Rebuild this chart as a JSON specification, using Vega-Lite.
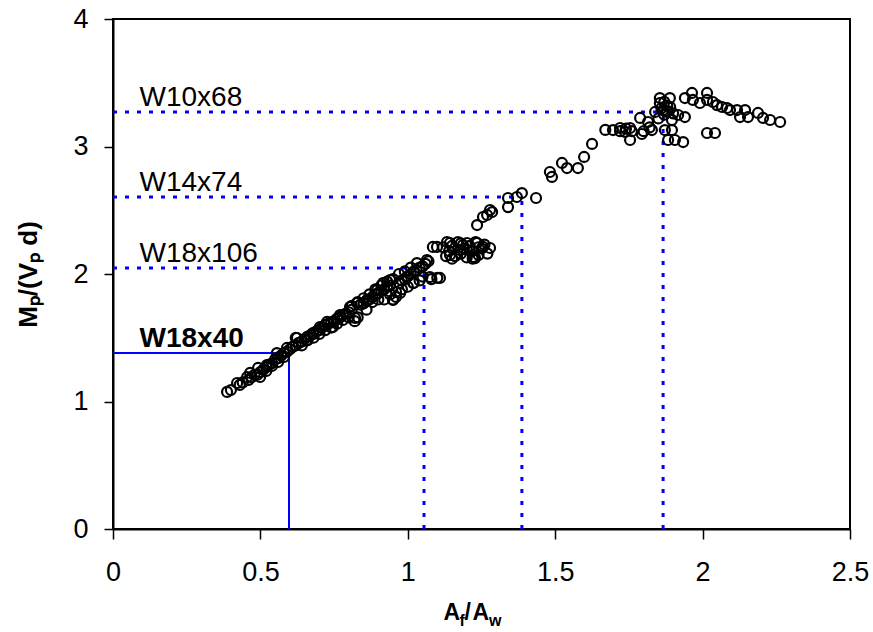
{
  "$schema": "https://vega.github.io/schema/vega-lite/v6.json",
  "autosize": {"type": "none"},
  "width": 737,
  "height": 510,
  "padding": {"left": 113, "top": 19, "right": 23, "bottom": 103},
  "background": "white",
  "config": {
    "view": {"stroke": "black", "strokeWidth": 2},
    "axis": {
      "domainColor": "black", "domainWidth": 2,
      "tickColor": "black", "tickWidth": 1.5, "tickSize": 9,
      "labelFont": "Liberation Sans", "labelFontSize": 27, "labelColor": "black",
      "titleFont": "Liberation Sans", "titleColor": "black",
      "grid": false
    }
  },
  "datasets": {
    "pts": [
      {"af":0.387,"m":1.075},{"af":0.421,"m":1.145},{"af":0.455,"m":1.192},{"af":0.465,"m":1.224},{"af":0.499,"m":1.192},
      {"af":0.492,"m":1.263},{"af":0.522,"m":1.286},{"af":0.556,"m":1.38},{"af":0.59,"m":1.42},{"af":0.624,"m":1.498},
      {"af":0.658,"m":1.482},{"af":0.678,"m":1.537},{"af":0.702,"m":1.584},{"af":0.726,"m":1.624},{"af":0.746,"m":1.584},
      {"af":0.77,"m":1.678},{"af":0.804,"m":1.741},{"af":0.821,"m":1.655},{"af":0.828,"m":1.773},{"af":0.862,"m":1.796},
      {"af":0.896,"m":1.875},{"af":0.916,"m":1.929},{"af":0.94,"m":1.953},{"af":0.95,"m":1.796},{"af":0.974,"m":1.851},
      {"af":0.997,"m":1.976},{"af":1.018,"m":1.929},{"af":1.031,"m":2.086},{"af":1.065,"m":2.11},{"af":1.075,"m":1.976},
      {"af":1.109,"m":1.969},{"af":1.085,"m":2.212},{"af":1.143,"m":2.243},{"af":1.177,"m":2.188},{"af":1.201,"m":2.243},
      {"af":1.221,"m":2.133},{"af":1.255,"m":2.212},{"af":1.279,"m":2.204},{"af":1.235,"m":2.384},{"af":1.269,"m":2.463},
      {"af":1.286,"m":2.486},{"af":1.099,"m":2.212},{"af":1.133,"m":2.251},{"af":1.143,"m":2.149},{"af":1.187,"m":2.227},
      {"af":1.235,"m":2.243},{"af":1.228,"m":2.125},{"af":1.255,"m":2.447},{"af":1.279,"m":2.502},{"af":1.34,"m":2.525},
      {"af":1.34,"m":2.596},{"af":1.37,"m":2.604},{"af":1.387,"m":2.635},{"af":1.435,"m":2.596},{"af":1.482,"m":2.8},
      {"af":1.489,"m":2.761},{"af":1.523,"m":2.871},{"af":1.54,"m":2.831},{"af":1.577,"m":2.831},{"af":1.598,"m":2.918},
      {"af":1.625,"m":3.02},{"af":1.696,"m":3.129},{"af":1.72,"m":3.145},{"af":1.737,"m":3.114},{"af":1.754,"m":3.145},
      {"af":1.754,"m":3.051},{"af":1.794,"m":3.098},{"af":1.788,"m":3.224},{"af":1.815,"m":3.192},{"af":1.828,"m":3.129},
      {"af":1.839,"m":3.271},{"af":1.855,"m":3.38},{"af":1.855,"m":3.341},{"af":1.866,"m":3.286},{"af":1.889,"m":3.38},
      {"af":1.879,"m":3.271},{"af":1.896,"m":3.208},{"af":1.896,"m":3.129},{"af":1.872,"m":3.129},{"af":1.883,"m":3.051},
      {"af":1.906,"m":3.051},{"af":1.934,"m":3.035},{"af":1.917,"m":3.247},{"af":1.94,"m":3.231},{"af":1.94,"m":3.38},
      {"af":1.964,"m":3.42},{"af":1.967,"m":3.365},{"af":1.991,"m":3.341},{"af":2.015,"m":3.42},{"af":2.015,"m":3.365},
      {"af":2.035,"m":3.349},{"af":2.049,"m":3.325},{"af":2.066,"m":3.31},{"af":2.083,"m":3.302},{"af":2.093,"m":3.286},
      {"af":2.117,"m":3.286},{"af":2.127,"m":3.231},{"af":2.144,"m":3.286},{"af":2.154,"m":3.231},{"af":2.188,"m":3.263},
      {"af":2.205,"m":3.224},{"af":2.229,"m":3.208},{"af":2.263,"m":3.192},{"af":2.015,"m":3.106},{"af":2.042,"m":3.106},
      {"af":0.40,"m":1.09},{"af":0.43,"m":1.13},{"af":0.44,"m":1.15},{"af":0.47,"m":1.19},{"af":0.48,"m":1.21},
      {"af":0.50,"m":1.23},{"af":0.51,"m":1.25},{"af":0.52,"m":1.27},{"af":0.53,"m":1.29},{"af":0.54,"m":1.30},
      {"af":0.55,"m":1.33},{"af":0.56,"m":1.34},{"af":0.57,"m":1.36},{"af":0.58,"m":1.38},{"af":0.59,"m":1.39},
      {"af":0.60,"m":1.41},{"af":0.61,"m":1.43},{"af":0.62,"m":1.44},{"af":0.63,"m":1.46},{"af":0.64,"m":1.47},
      {"af":0.65,"m":1.49},{"af":0.66,"m":1.51},{"af":0.67,"m":1.52},{"af":0.68,"m":1.53},{"af":0.69,"m":1.55},
      {"af":0.70,"m":1.56},{"af":0.71,"m":1.58},{"af":0.72,"m":1.60},{"af":0.73,"m":1.61},{"af":0.74,"m":1.62},
      {"af":0.75,"m":1.63},{"af":0.76,"m":1.65},{"af":0.77,"m":1.66},{"af":0.78,"m":1.68},{"af":0.79,"m":1.69},
      {"af":0.80,"m":1.70},{"af":0.81,"m":1.72},{"af":0.82,"m":1.63},{"af":0.83,"m":1.66},{"af":0.84,"m":1.76},
      {"af":0.85,"m":1.77},{"af":0.86,"m":1.79},{"af":0.87,"m":1.80},{"af":0.88,"m":1.82},{"af":0.89,"m":1.84},
      {"af":0.90,"m":1.85},{"af":0.91,"m":1.87},{"af":0.92,"m":1.88},{"af":0.93,"m":1.90},{"af":0.94,"m":1.91},
      {"af":0.95,"m":1.80},{"af":0.96,"m":1.82},{"af":0.97,"m":1.93},{"af":0.98,"m":1.95},{"af":0.99,"m":1.96},
      {"af":1.00,"m":1.98},{"af":1.01,"m":2.00},{"af":1.02,"m":2.02},{"af":1.03,"m":2.03},{"af":1.04,"m":2.05},
      {"af":1.05,"m":2.06},{"af":1.06,"m":2.08},{"af":1.07,"m":2.10},{"af":1.08,"m":1.96},{"af":1.10,"m":1.97},
      {"af":0.62,"m":1.50},{"af":0.72,"m":1.56},{"af":0.78,"m":1.64},{"af":0.80,"m":1.66},{"af":0.86,"m":1.72},
      {"af":0.88,"m":1.78},{"af":0.90,"m":1.80},{"af":0.92,"m":1.80},{"af":0.94,"m":1.84},{"af":0.96,"m":1.86},
      {"af":0.98,"m":1.88},{"af":1.00,"m":1.90},{"af":1.02,"m":1.93},{"af":1.04,"m":1.95},{"af":1.05,"m":1.98},
      {"af":0.97,"m":2.00},{"af":0.99,"m":2.02},{"af":1.01,"m":2.05},{"af":0.95,"m":1.96},{"af":0.93,"m":1.94},
      {"af":0.91,"m":1.91},{"af":0.89,"m":1.88},{"af":0.87,"m":1.84},{"af":0.85,"m":1.81},{"af":0.83,"m":1.78},
      {"af":0.81,"m":1.75},{"af":0.76,"m":1.61},{"af":0.74,"m":1.58},{"af":0.70,"m":1.53},{"af":0.68,"m":1.50},
      {"af":0.66,"m":1.48},{"af":0.64,"m":1.44},{"af":0.58,"m":1.35},{"af":0.56,"m":1.31},{"af":0.54,"m":1.28},
      {"af":0.52,"m":1.24},{"af":0.49,"m":1.21},{"af":0.46,"m":1.17},
      {"af":1.12,"m":2.21},{"af":1.14,"m":2.18},{"af":1.15,"m":2.22},{"af":1.16,"m":2.14},{"af":1.17,"m":2.25},
      {"af":1.18,"m":2.16},{"af":1.19,"m":2.20},{"af":1.20,"m":2.13},{"af":1.21,"m":2.22},{"af":1.22,"m":2.18},
      {"af":1.23,"m":2.25},{"af":1.24,"m":2.15},{"af":1.25,"m":2.20},{"af":1.26,"m":2.23},{"af":1.27,"m":2.16},
      {"af":1.13,"m":2.14},{"af":1.15,"m":2.12},{"af":1.18,"m":2.24},{"af":1.20,"m":2.19},{"af":1.22,"m":2.12},
      {"af":1.24,"m":2.21},
      {"af":1.86,"m":3.30},{"af":1.87,"m":3.35},{"af":1.88,"m":3.32},{"af":1.87,"m":3.25},{"af":1.88,"m":3.28},
      {"af":1.85,"m":3.22},{"af":1.89,"m":3.31},{"af":1.90,"m":3.26},{"af":1.82,"m":3.15},{"af":1.80,"m":3.12},
      {"af":1.76,"m":3.12},{"af":1.74,"m":3.14},{"af":1.72,"m":3.12},{"af":1.67,"m":3.13}
    ],
    "sections": [
      {"name":"W10x68","af":1.866,"m":3.27,"kind":"dotted","zero":0},
      {"name":"W14x74","af":1.387,"m":2.604,"kind":"dotted","zero":0},
      {"name":"W18x106","af":1.055,"m":2.047,"kind":"dotted","zero":0},
      {"name":"W18x40","af":0.597,"m":1.38,"kind":"solid","zero":0}
    ],
    "one": [{"t": 1}]
  },
  "layer": [
    {
      "data": {"name": "sections"},
      "transform": [{"filter": "datum.kind === 'dotted'"}],
      "layer": [
        {"mark": {"type": "rule", "color": "#0000ff", "strokeWidth": 3, "strokeDash": [4, 8], "strokeCap": "butt"},
         "encoding": {"x": {"field": "zero", "type": "quantitative"}, "x2": {"field": "af"}, "y": {"field": "m", "type": "quantitative"}}},
        {"mark": {"type": "rule", "color": "#0000ff", "strokeWidth": 3, "strokeDash": [4, 8], "strokeCap": "butt"},
         "encoding": {"x": {"field": "af", "type": "quantitative"}, "y": {"field": "zero", "type": "quantitative"}, "y2": {"field": "m"}}},
        {"mark": {"type": "text", "align": "left", "baseline": "alphabetic", "dy": -6, "font": "Liberation Sans", "fontSize": 28, "color": "black"},
         "encoding": {"x": {"datum": 0.09, "type": "quantitative"}, "y": {"field": "m", "type": "quantitative"}, "text": {"field": "name", "type": "nominal"}}}
      ]
    },
    {
      "data": {"name": "sections"},
      "transform": [{"filter": "datum.kind === 'solid'"}],
      "layer": [
        {"mark": {"type": "rule", "color": "#0000ff", "strokeWidth": 2},
         "encoding": {"x": {"field": "zero", "type": "quantitative"}, "x2": {"field": "af"}, "y": {"field": "m", "type": "quantitative"}}},
        {"mark": {"type": "rule", "color": "#0000ff", "strokeWidth": 2},
         "encoding": {"x": {"field": "af", "type": "quantitative"}, "y": {"field": "zero", "type": "quantitative"}, "y2": {"field": "m"}}},
        {"mark": {"type": "text", "align": "left", "baseline": "alphabetic", "dy": -6, "font": "Liberation Sans", "fontSize": 28, "fontWeight": "bold", "color": "black"},
         "encoding": {"x": {"datum": 0.09, "type": "quantitative"}, "y": {"field": "m", "type": "quantitative"}, "text": {"field": "name", "type": "nominal"}}}
      ]
    },
    {
      "data": {"name": "pts"},
      "mark": {"type": "point", "shape": "circle", "filled": false, "stroke": "black", "strokeWidth": 2.2, "size": 100, "opacity": 1},
      "encoding": {
        "x": {"field": "af", "type": "quantitative",
          "scale": {"domain": [0, 2.5], "nice": false, "zero": false},
          "axis": {"values": [0, 0.5, 1, 1.5, 2, 2.5], "format": "~g", "labelFlush": false, "labelOverlap": false, "labelPadding": 20, "tickSize": 10, "title": null}},
        "y": {"field": "m", "type": "quantitative",
          "scale": {"domain": [0, 4], "nice": false, "zero": false},
          "axis": {"values": [0, 1, 2, 3, 4], "format": "~g", "labelPadding": 16, "title": "Mₚ/(Vₚ d)", "titleFontSize": 26, "titleFontWeight": "bold", "titlePadding": 31}}
      }
    },
    {
      "data": {"name": "one"},
      "layer": [
        {"mark": {"type": "text", "text": "A", "align": "left", "baseline": "alphabetic", "dx": -38, "dy": 2, "font": "Liberation Sans", "fontSize": 23, "fontWeight": "bold", "color": "black"},
         "encoding": {"x": {"datum": 1.25, "type": "quantitative"}, "y": {"datum": -0.698, "type": "quantitative"}}},
        {"mark": {"type": "text", "text": "f", "align": "left", "baseline": "alphabetic", "dx": -22, "dy": 8, "font": "Liberation Sans", "fontSize": 16, "fontWeight": "bold", "color": "black"},
         "encoding": {"x": {"datum": 1.25, "type": "quantitative"}, "y": {"datum": -0.698, "type": "quantitative"}}},
        {"mark": {"type": "text", "text": "/", "align": "left", "baseline": "alphabetic", "dx": -17, "dy": 2, "font": "Liberation Sans", "fontSize": 23, "fontWeight": "bold", "color": "black"},
         "encoding": {"x": {"datum": 1.25, "type": "quantitative"}, "y": {"datum": -0.698, "type": "quantitative"}}},
        {"mark": {"type": "text", "text": "A", "align": "left", "baseline": "alphabetic", "dx": -9, "dy": 2, "font": "Liberation Sans", "fontSize": 23, "fontWeight": "bold", "color": "black"},
         "encoding": {"x": {"datum": 1.25, "type": "quantitative"}, "y": {"datum": -0.698, "type": "quantitative"}}},
        {"mark": {"type": "text", "text": "w", "align": "left", "baseline": "alphabetic", "dx": 7.5, "dy": 8, "font": "Liberation Sans", "fontSize": 16, "fontWeight": "bold", "color": "black"},
         "encoding": {"x": {"datum": 1.25, "type": "quantitative"}, "y": {"datum": -0.698, "type": "quantitative"}}}
      ]
    }
  ]
}
